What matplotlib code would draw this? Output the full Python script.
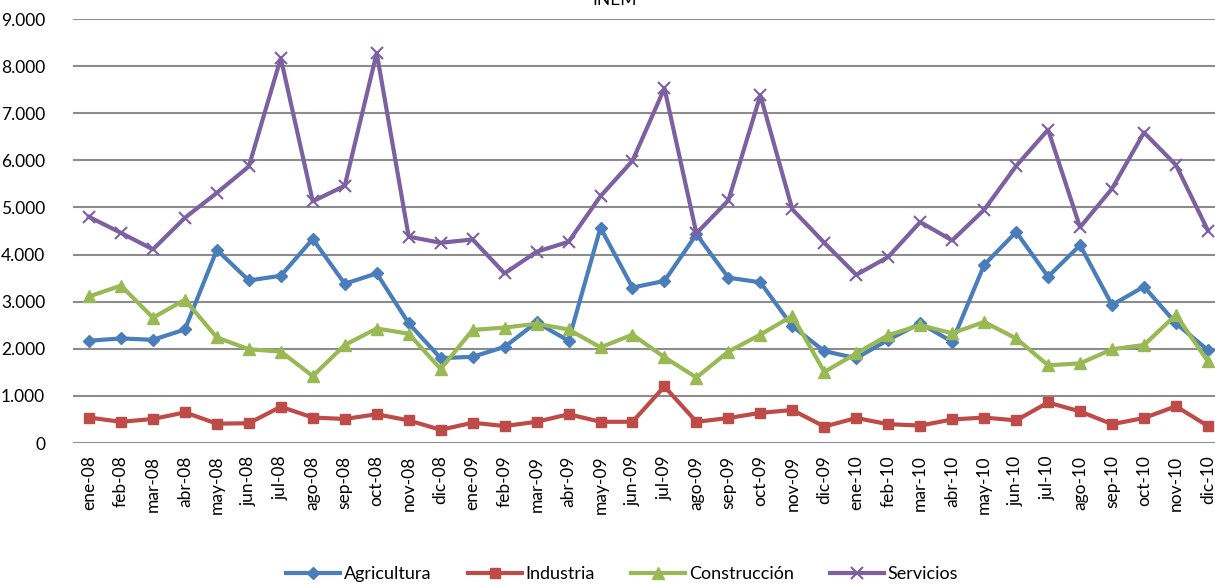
import matplotlib
matplotlib.use("Agg")
import matplotlib.pyplot as plt

months = ["ene-08", "feb-08", "mar-08", "abr-08", "may-08", "jun-08", "jul-08", "ago-08", "sep-08", "oct-08", "nov-08", "dic-08",
          "ene-09", "feb-09", "mar-09", "abr-09", "may-09", "jun-09", "jul-09", "ago-09", "sep-09", "oct-09", "nov-09", "dic-09",
          "ene-10", "feb-10", "mar-10", "abr-10", "may-10", "jun-10", "jul-10", "ago-10", "sep-10", "oct-10", "nov-10", "dic-10"]

agricultura = [2170, 2220, 2190, 2410, 4100, 3450, 3550, 4330, 3380, 3600, 2540, 1800,
               1830, 2040, 2560, 2170, 4570, 3300, 3440, 4430, 3510, 3410, 2480, 1950,
               1800, 2190, 2540, 2150, 3780, 4480, 3530, 4200, 2930, 3320, 2540, 1970]
industria = [540, 450, 510, 650, 410, 420, 770, 540, 510, 610, 480, 280,
             430, 360, 450, 610, 450, 450, 1200, 450, 530, 640, 700, 350,
             530, 400, 370, 500, 540, 480, 860, 670, 400, 530, 780, 360]
construccion = [3110, 3340, 2660, 3040, 2240, 1990, 1940, 1420, 2080, 2430, 2320, 1570,
                2400, 2450, 2530, 2410, 2030, 2300, 1820, 1390, 1940, 2300, 2700, 1510,
                1900, 2290, 2500, 2330, 2570, 2220, 1650, 1690, 1990, 2080, 2720, 1730]
servicios = [4800, 4460, 4110, 4780, 5310, 5870, 8170, 5130, 5460, 8280, 4380, 4250,
             4320, 3600, 4060, 4270, 5240, 5990, 7530, 4450, 5150, 7380, 4960, 4250,
             3570, 3950, 4690, 4300, 4950, 5880, 6650, 4580, 5400, 6590, 5900, 4510]

yticks = [0, 1000, 2000, 3000, 4000, 5000, 6000, 7000, 8000, 9000]
ytick_labels = ["0", "1.000", "2.000", "3.000", "4.000", "5.000", "6.000", "7.000", "8.000", "9.000"]

plt.rcParams['font.family'] = ['Lato', 'DejaVu Sans']

W, H = 1215, 584
fig = plt.figure(figsize=(W / 100, H / 100), dpi=100)
left_px, right_px = 73, 73 + 36 * 31.97
top_px, bottom_px = 19, 443
ax = fig.add_axes([left_px / W, 1 - bottom_px / H, (right_px - left_px) / W, (bottom_px - top_px) / H])

x = list(range(len(months)))
lw = 3.0
ax.plot(x, agricultura, color="#4A7EBB", lw=lw, marker="D", ms=6.5, label="Agricultura", zorder=3)
ax.plot(x, industria, color="#BE4B48", lw=lw, marker="s", ms=7.5, label="Industria", zorder=3)
ax.plot(x, construccion, color="#98B954", lw=lw, marker="^", ms=8, label="Construcción", zorder=3)
ax.plot(x, servicios, color="#7D60A0", lw=lw, marker="x", ms=8, mew=1.5, label="Servicios", zorder=3)

ax.set_xlim(-0.5, len(months) - 0.5)
ax.set_ylim(0, 9000)
ax.set_yticks(yticks)
ax.set_yticklabels(ytick_labels, fontsize=12.5)
ax.set_xticks(x)
ax.set_xticklabels(months, rotation=90, fontsize=12.5)
ax.tick_params(axis="both", length=0)
ax.tick_params(axis="x", pad=9)
ax.tick_params(axis="y", pad=20)
for s in ax.spines.values():
    s.set_visible(False)
ax.grid(axis="y", color="#8C8C8C", lw=1.5)
ax.set_axisbelow(True)

fig.text(615 / W, 1 - 5 / H, "INEM", ha="center", va="baseline", fontsize=12.5)

fig.legend(loc="center", bbox_to_anchor=(0.512, 10 / H), ncol=4, frameon=False,
           fontsize=13, handlelength=3.0, handletextpad=0.2, columnspacing=2.0)

fig.savefig("out.png", dpi=100)
